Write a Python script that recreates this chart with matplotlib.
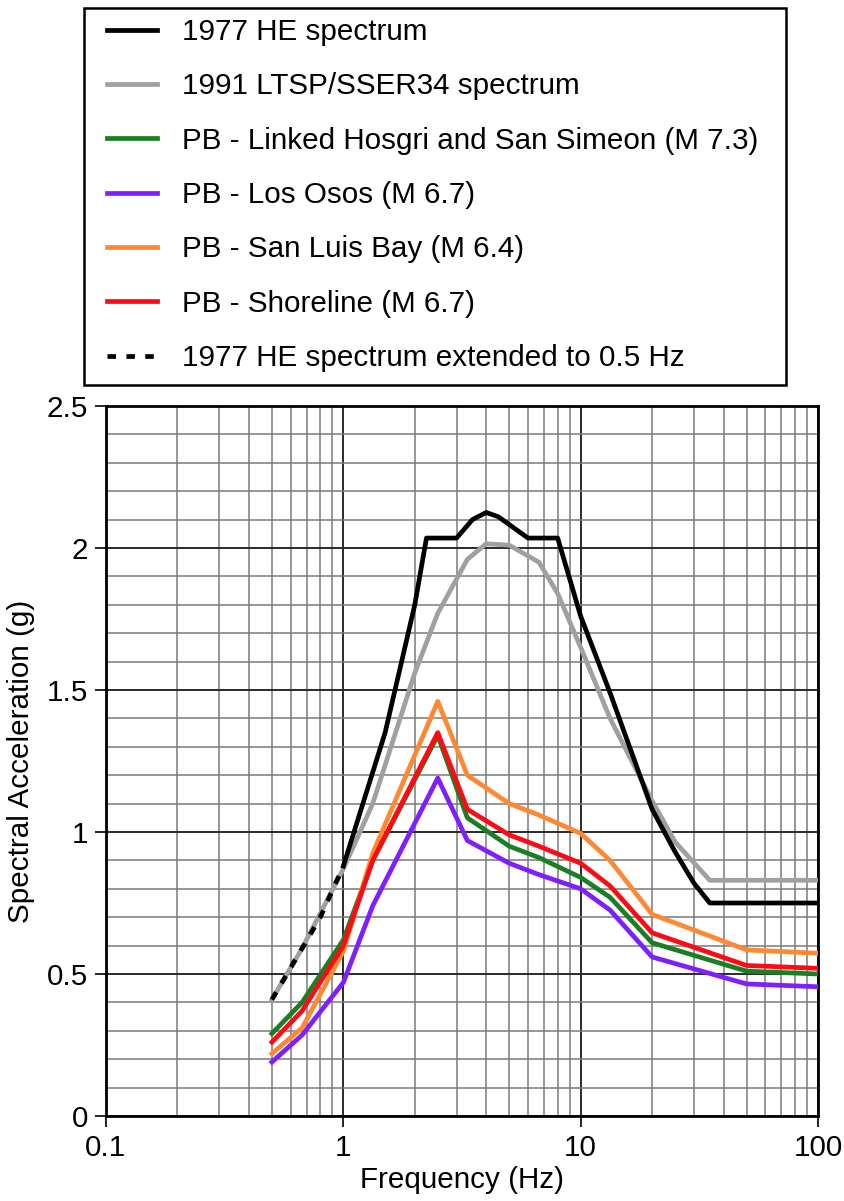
import matplotlib.pyplot as plt
from matplotlib.patches import Rectangle
from matplotlib.ticker import FixedLocator, NullFormatter
import numpy as np

plt.rcParams['font.family'] = ['Liberation Sans', 'DejaVu Sans']

# 1977 Hosgri evaluation spectrum
he_freq = [1.0, 1.5, 2.0, 2.24, 3.0, 3.5, 4.0, 4.5, 6.0, 8.0, 10.0, 13.3, 20.0, 25.0, 30.0, 35.0, 100.0]
he_sa = [0.88, 1.35, 1.80, 2.035, 2.035, 2.10, 2.125, 2.11, 2.035, 2.035, 1.76, 1.49, 1.08, 0.93, 0.82, 0.75, 0.75]

# 1977 HE extended to 0.5 Hz
ext_freq = [0.5, 0.67, 0.8, 1.0]
ext_sa = [0.41, 0.59, 0.70, 0.88]

# 1991 LTSP / SSER34 spectrum
ltsp_freq = [0.5, 0.67, 1.0, 1.33, 2.0, 2.5, 3.33, 4.0, 5.0, 6.67, 8.0, 10.0, 13.3, 20.0, 25.0, 35.0, 100.0]
ltsp_sa = [0.41, 0.59, 0.87, 1.10, 1.56, 1.77, 1.96, 2.015, 2.01, 1.95, 1.84, 1.65, 1.40, 1.11, 0.965, 0.83, 0.83]

# PB scenario spectra (common frequencies)
pb_freq = [0.5, 0.67, 1.0, 1.33, 2.5, 3.33, 5.0, 6.67, 10.0, 13.3, 20.0, 50.0, 100.0]
hosgri_sa = [0.29, 0.40, 0.62, 0.90, 1.34, 1.05, 0.95, 0.91, 0.84, 0.77, 0.61, 0.51, 0.50]
losososos_sa = [0.19, 0.285, 0.47, 0.74, 1.19, 0.97, 0.89, 0.85, 0.80, 0.725, 0.56, 0.465, 0.455]
sanluis_sa = [0.22, 0.31, 0.58, 0.925, 1.46, 1.20, 1.10, 1.06, 0.995, 0.90, 0.71, 0.585, 0.573]
shoreline_sa = [0.26, 0.37, 0.60, 0.90, 1.35, 1.08, 0.99, 0.95, 0.89, 0.81, 0.645, 0.53, 0.52]

fs = 21.3
W, H = 844, 1201

fig = plt.figure(figsize=(8.44, 12.01), dpi=100)
ax = fig.add_axes([106 / W, 85 / H, 712 / W, 710 / H])

lw = 3.4
ax.plot(ltsp_freq, ltsp_sa, color='#a0a0a0', lw=lw, zorder=3)
l_he, = ax.plot(he_freq, he_sa, color='black', lw=lw, zorder=4, label='1977 HE spectrum')
l_ltsp, = ax.plot([], [], color='#a0a0a0', lw=lw, label='1991 LTSP/SSER34 spectrum')
l_ext, = ax.plot(ext_freq, ext_sa, color='black', lw=lw, dashes=(1.8, 2.2), zorder=4,
                 label='1977 HE spectrum extended to 0.5 Hz')
l_hos, = ax.plot(pb_freq, hosgri_sa, color='#1a7f22', lw=lw, zorder=3,
                 label='PB - Linked Hosgri and San Simeon (M 7.3)')
l_los, = ax.plot(pb_freq, losososos_sa, color='#7f1fff', lw=lw, zorder=3, label='PB - Los Osos (M 6.7)')
l_slb, = ax.plot(pb_freq, sanluis_sa, color='#ff8833', lw=lw, zorder=3, label='PB - San Luis Bay (M 6.4)')
l_sho, = ax.plot(pb_freq, shoreline_sa, color='#ff0a14', lw=lw, zorder=3, label='PB - Shoreline (M 6.7)')

ax.set_xscale('log')
ax.set_xlim(0.1, 100)
ax.set_ylim(0, 2.5)

ax.xaxis.set_major_locator(FixedLocator([0.1, 1, 10, 100]))
ax.set_xticklabels(['0.1', '1', '10', '100'])
minor_x = [m * d for d in [0.1, 1, 10] for m in range(2, 10)]
ax.xaxis.set_minor_locator(FixedLocator(minor_x))
ax.xaxis.set_minor_formatter(NullFormatter())
ax.set_yticks([0, 0.5, 1, 1.5, 2, 2.5])
ax.set_yticklabels(['0', '0.5', '1', '1.5', '2', '2.5'])
ax.yaxis.set_minor_locator(FixedLocator(np.arange(0.1, 2.5, 0.1)))

ax.tick_params(axis='both', which='major', direction='out', length=8, width=1.2, labelsize=fs, pad=5)
ax.tick_params(axis='both', which='minor', length=0)

ax.grid(True, which='major', color='#2a2a2a', lw=1.4, zorder=1)
ax.grid(True, which='minor', color='#7a7a7a', lw=1.1, zorder=1)
ax.set_axisbelow(True)
for s in ax.spines.values():
    s.set_linewidth(2)

ax.set_xlabel('Frequency (Hz)', fontsize=fs, labelpad=3)
ax.set_ylabel('Spectral Acceleration (g)', fontsize=fs, labelpad=8)

# legend box drawn separately so the inner spacing can follow the original
fig.patches.append(Rectangle((84 / W, 1 - 385 / H), 702 / W, 377 / H, transform=fig.transFigure,
                             fill=False, edgecolor='black', lw=1.8))
handles = [l_he, l_ltsp, l_hos, l_los, l_slb, l_sho, l_ext]
leg = fig.legend(handles=handles, loc='upper left', bbox_to_anchor=(107 / W, 1 - 18 / H),
                 borderaxespad=0, borderpad=0, fontsize=fs, frameon=False,
                 handlelength=1.7, handletextpad=0.85, labelspacing=0.89)

fig.savefig('out.png', dpi=100)
